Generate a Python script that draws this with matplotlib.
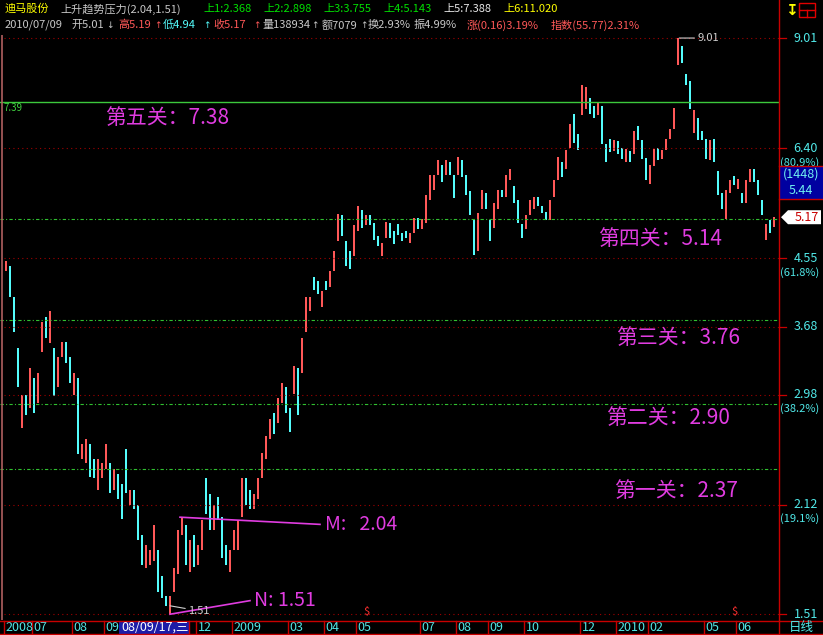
import matplotlib
matplotlib.use('Agg')
import matplotlib.pyplot as plt
from matplotlib.transforms import blended_transform_factory
from matplotlib.patches import Rectangle, Polygon
import numpy as np

plt.rcParams['font.family'] = ['Noto Sans CJK SC', 'DejaVu Sans']

# candles, roughly one per two trading days, 2008-06 .. 2010-07-09
opens = [4.37, 4.44, 4.04, 3.45, 2.69, 2.98, 2.86, 3.14, 2.91, 3.40,
         3.80, 3.50, 3.45, 3.05, 3.35, 3.51, 3.35, 2.98, 3.14, 2.44,
         2.41, 2.56, 2.44, 2.22, 2.30, 2.37, 2.41, 2.22, 2.33, 2.26,
         2.52, 2.12, 2.22, 2.12, 1.93, 1.74, 1.76, 1.78, 1.84, 1.70,
         1.60, 1.51, 1.62, 1.71, 1.93, 1.99, 1.72, 1.93, 1.76, 1.84,
         2.30, 2.19, 1.96, 2.17, 2.04, 1.87, 1.72, 1.84, 1.84, 2.04,
         2.30, 2.22, 2.09, 2.16, 2.30, 2.44, 2.60, 2.82, 2.73, 2.91,
         3.05, 2.86, 2.99, 3.24, 3.19, 3.62, 3.86, 4.30, 4.24, 3.92,
         4.24, 4.17, 4.37, 4.80, 5.20, 4.80, 4.66, 4.58, 4.96, 5.28,
         5.04, 5.20, 5.08, 4.88, 4.58, 4.84, 5.08, 4.96, 5.06, 4.92,
         4.96, 4.77, 4.92, 5.16, 4.98, 5.08, 5.45, 5.62, 5.90, 6.08,
         5.90, 6.14, 5.90, 5.90, 6.18, 5.90, 5.60, 5.12, 4.66, 5.30,
         5.58, 5.12, 5.00, 5.30, 5.62, 5.50, 5.80, 5.70, 5.45, 5.06,
         4.98, 5.20, 5.30, 5.50, 5.36, 5.26, 5.12, 5.50, 5.80, 6.14,
         6.00, 6.40, 7.12, 6.70, 7.10, 7.23, 7.48, 7.30, 7.10, 7.30,
         6.48, 6.58, 6.34, 6.54, 6.40, 6.14, 6.34, 6.28, 6.86, 6.56,
         6.22, 5.73, 6.06, 6.40, 6.20, 6.36, 6.58, 6.80, 8.30, 8.80,
         8.07, 7.88, 6.72, 7.04, 6.76, 6.58, 6.18, 6.58, 5.97, 5.58,
         5.14, 5.58, 5.88, 5.64, 5.58, 5.40, 5.76, 6.00, 5.80, 5.45,
         4.82, 5.12, 5.01]
closes = [4.51, 4.04, 3.62, 3.05, 2.98, 2.80, 3.24, 2.82, 3.19, 3.74,
          3.56, 3.86, 2.97, 3.35, 3.51, 3.29, 3.09, 3.19, 2.48, 2.56,
          2.60, 2.31, 2.30, 2.44, 2.41, 2.56, 2.20, 2.37, 2.16, 2.03,
          2.20, 2.22, 2.09, 1.90, 1.76, 1.87, 1.84, 1.99, 1.62, 1.59,
          1.55, 1.60, 1.74, 1.96, 2.04, 1.76, 1.90, 1.75, 1.87, 2.02,
          2.06, 1.96, 2.12, 2.02, 1.80, 1.76, 1.84, 1.96, 2.02, 2.30,
          2.12, 2.09, 2.19, 2.30, 2.49, 2.62, 2.77, 2.64, 2.95, 3.09,
          2.82, 2.66, 3.26, 2.80, 3.56, 4.04, 4.04, 4.13, 4.08, 4.11,
          4.13, 4.37, 4.66, 5.22, 4.88, 4.44, 4.40, 5.04, 5.36, 5.00,
          5.20, 5.04, 4.82, 4.73, 4.78, 5.10, 4.84, 4.76, 4.90, 4.80,
          4.84, 4.92, 5.16, 4.98, 5.14, 5.54, 5.90, 5.90, 6.18, 5.76,
          6.18, 5.90, 5.48, 6.24, 5.85, 5.54, 5.20, 4.60, 5.24, 5.62,
          5.30, 4.80, 5.40, 5.62, 5.50, 5.90, 6.00, 5.40, 5.08, 4.84,
          5.20, 5.45, 5.50, 5.36, 5.24, 5.12, 5.45, 5.80, 6.24, 5.85,
          6.36, 6.90, 6.50, 6.36, 7.80, 7.75, 7.12, 7.04, 7.40, 6.48,
          6.14, 6.32, 6.56, 6.28, 6.20, 6.38, 6.14, 6.76, 6.56, 6.20,
          5.80, 6.08, 6.38, 6.18, 6.36, 6.58, 6.80, 7.25, 9.01, 8.33,
          7.80, 7.23, 7.20, 6.56, 6.56, 6.20, 6.56, 6.14, 5.54, 5.30,
          5.62, 5.80, 5.71, 5.82, 5.40, 5.80, 6.00, 5.76, 5.54, 5.20,
          5.06, 4.92, 5.17]

# right axis
tick_vals = [9.01, 6.40, 4.55, 3.68, 2.98, 2.12, 1.51]
tick_pct = {6.40: '(80.9%)', 4.55: '(61.8%)', 2.98: '(38.2%)', 2.12: '(19.1%)'}

# resistance levels
top_level = 7.39
gate_vals = [2.37, 2.90, 3.76, 5.14]
gate_text = ['第一关：2.37', '第二关：2.90', '第三关：3.76', '第四关：5.14', '第五关：7.38']

# month labels (candle index where the month starts)
month_labels = ['2008', '07', '08', '09', '12', '2009', '03', '04', '05',
                '07', '08', '09', '10', '12', '2010', '02', '05', '06']
month_idx = [0, 7, 17, 25, 48, 57, 71, 80, 88, 104, 113, 121, 130, 144,
             153, 161, 175, 183]
event_idx = [90, 182]

m_val, n_val = 2.04, 1.51
low_idx, high_idx = 41, 168

UP = '#ff5858'
DOWN = '#54fcfc'
AXC = '#50e8e8'
MAG = '#e03ce0'
RED = '#c80000'

W, H = 823, 635
fig = plt.figure(figsize=(W / 100, H / 100), dpi=100, facecolor='black')
ax = fig.add_axes([0, 1 - 620 / H, 779 / W, (620 - 35) / H])
ax.set_facecolor('black')
for s in ax.spines.values():
    s.set_visible(False)
ax.set_xticks([])
ax.set_yticks([])
ax.set_yscale('log')
ax.set_xlim(-1.5, 193.25)
ax.set_ylim(min(closes) * np.exp(-14 / 318), max(closes) * np.exp(3 / 318))
ax.minorticks_off()

ov = fig.add_axes([0, 0, 1, 1], zorder=5)
ov.set_xlim(0, W)
ov.set_ylim(H, 0)
ov.axis('off')
ov.patch.set_alpha(0)

# grid and levels
for v in tick_vals:
    ax.axhline(v, xmin=4 / 779, color='#a00000', ls=(0, (1, 3)), lw=0.8)
ax.axhline(top_level, color='#3cc83c', lw=1.0)
for v in gate_vals:
    ax.axhline(v, color='#30c030', ls=(0, (3, 2, 1, 2)), lw=0.8)
ax.axvline(-1.0, color='#b06060', lw=1.2)

# candles
x = np.arange(len(closes))
o = np.array(opens)
c = np.array(closes)
up = c >= o
ax.bar(x[up], (c - o)[up], bottom=o[up], width=0.6, color=UP, linewidth=0)
ax.bar(x[~up], (c - o)[~up], bottom=o[~up], width=0.6, color=DOWN, linewidth=0)

# extremes
ax.annotate('9.01', xy=(high_idx + 0.3, max(closes)), xytext=(18, 0),
            textcoords='offset pixels', color='#d0d0d0', fontsize=8,
            va='center', ha='left',
            arrowprops=dict(arrowstyle='-', color='#d0d0d0', lw=0.8,
                            shrinkA=0, shrinkB=0))
ax.annotate('1.51', xy=(low_idx, min(closes)), xytext=(18, -5),
            textcoords='offset pixels', color='#d0d0d0', fontsize=8,
            va='center', ha='left',
            arrowprops=dict(arrowstyle='-', color='#d0d0d0', lw=0.8,
                            shrinkA=0, shrinkB=0))

# M / N lines
ax.plot([43.5, 78.5], [m_val, 1.995], color=MAG, lw=1.2)
ax.text(79.7, 1.995, 'M:   2.04', color=MAG, fontsize=14, va='center', ha='left')
ax.plot([low_idx, 61], [n_val, 1.575], color=MAG, lw=1.2)
ax.text(62, 1.575, 'N: 1.51', color=MAG, fontsize=14, va='center', ha='left')

# gate labels
gate_pos = [(152, -22), (150, -14), (152.5, -18), (148, -20), (24.75, -16)]
for lvl, txt, (gx, dy) in zip(gate_vals + [top_level], gate_text, gate_pos):
    ax.annotate(txt, xy=(gx, lvl), xytext=(0, dy), textcoords='offset pixels',
                color=MAG, fontsize=15, va='center', ha='left')
ax.annotate('7.39', xy=(-1.5, top_level), xytext=(3, -6), textcoords='offset pixels',
            color='#40d040', fontsize=7, va='center', ha='left')

# right axis labels
tr = blended_transform_factory(ov.transData, ax.transData)
for v in tick_vals:
    ax.plot([780, 786], [v, v], color=RED, lw=0.9, transform=tr, clip_on=False)
    ax.text(818, v, f'{v:.2f}', color=AXC, fontsize=9, ha='right', va='center',
            transform=tr, clip_on=False)
    if v in tick_pct:
        ax.annotate(tick_pct[v], xy=(819, v), xycoords=tr, xytext=(0, -14),
                    textcoords='offset pixels', color=AXC, fontsize=8,
                    ha='right', va='center', annotation_clip=False)


def py(price):
    d = ax.transData.transform((0, price))
    return ov.transData.inverted().transform(d)[1]


# frame
ov.plot([779, 779], [0, H], color=RED, lw=1.0)
ov.plot([0, W], [620.5, 620.5], color=RED, lw=1.0)
ov.plot([0, W], [634, 634], color=RED, lw=1.0)

# box (1448) 5.44
ov.add_patch(Rectangle((780, 166), 43, 33, fc='#0000a0', ec='none'))
ov.plot([779, W], [166, 166], color=RED, lw=1.0)
ov.plot([779, W], [199, 199], color=RED, lw=1.0)
ov.text(801, 174, '(1448)', color='#70f0f0', fontsize=9, ha='center', va='center')
ov.text(801, 190, '5.44', color='#70f0f0', fontsize=9, ha='center', va='center')

# last price tag
yl = py(closes[-1])
ov.add_patch(Polygon([(781, yl), (788, yl - 7), (821, yl - 7), (821, yl + 7), (788, yl + 7)],
                     closed=True, fc='white', ec='none'))
ov.text(819, yl, f'{closes[-1]:.2f}', color=RED, fontsize=9, ha='right', va='center')

# bottom axis
bt = blended_transform_factory(ax.transData, ov.transData)
for lab, i in zip(month_labels, month_idx):
    ax.plot([i - 0.5, i - 0.5], [621, 634], color=RED, lw=1.0, transform=bt, clip_on=False)
    ax.text(i - 0.1, 627.5, lab, color=AXC, fontsize=9, ha='left', va='center',
            transform=bt, clip_on=False)
ov.add_patch(Rectangle((119, 621.5), 70, 12, fc='#1c1ca8', ec='none'))
ov.text(121, 627.5, '08/09/17,三', color='white', fontsize=9, ha='left', va='center')
ov.plot([189.5, 189.5], [621, 634], color=RED, lw=1.0)
for i in event_idx:
    ax.text(i, 612, '$', color='#ff3030', fontsize=8, ha='center', va='center',
            transform=bt, clip_on=False)
ov.text(801, 627.5, '日线', color=AXC, fontsize=9, ha='center', va='center')

# header
Y1, Y2, GR, YL, GN = 9, 25, '#c8c8c8', '#ffff00', '#00e000'
header1 = [('迪马股份', 5, YL), ('上升趋势压力(2.04,1.51)', 60, GR),
           ('上1:2.368', 203, GN), ('上2:2.898', 263, GN), ('上3:3.755', 323, GN),
           ('上4:5.143', 383, GN), ('上5:7.388', 443, '#e8e8e8'), ('上6:11.020', 503, YL)]
header2 = [('2010/07/09', 5, GR), ('开5.01', 71, GR),
           ('高5.19', 118, UP), ('低4.94', 163, DOWN),
           ('收5.17', 213, UP), ('量138934', 262, GR),
           ('额7079', 322, GR), ('换2.93%', 368, GR),
           ('振4.99%', 414, GR), ('涨(0.16)3.19%', 467, UP), ('指数(55.77)2.31%', 551, UP)]
arrows = [('↓', 110, GR), ('↑', 158, UP), ('↑', 206.5, DOWN), ('↑', 256.5, UP),
          ('↑', 315, GR), ('↑', 363.5, GR)]
for y0, row in ((Y1, header1), (Y2, header2)):
    for txt, x0, col in row:
        ov.text(x0, y0, txt, color=col, fontsize=8, ha='left', va='center')
for txt, x0, col in arrows:
    ov.text(x0, Y2, txt, color=col, fontsize=6.5, ha='center', va='center',
            family='DejaVu Sans')

# icons top right
ov.text(791, 10, '↧', color=YL, fontsize=11, ha='center', va='center',
        family='DejaVu Sans', fontweight='bold')
ov.add_patch(Rectangle((799, 3), 16, 14, fc='none', ec='#e00000', lw=1.0))
ov.plot([799, 815], [10, 10], color='#e00000', lw=1.0)
ov.plot([807, 807], [10, 17], color='#e00000', lw=1.0)

fig.savefig('out.png', dpi=100, facecolor='black')
